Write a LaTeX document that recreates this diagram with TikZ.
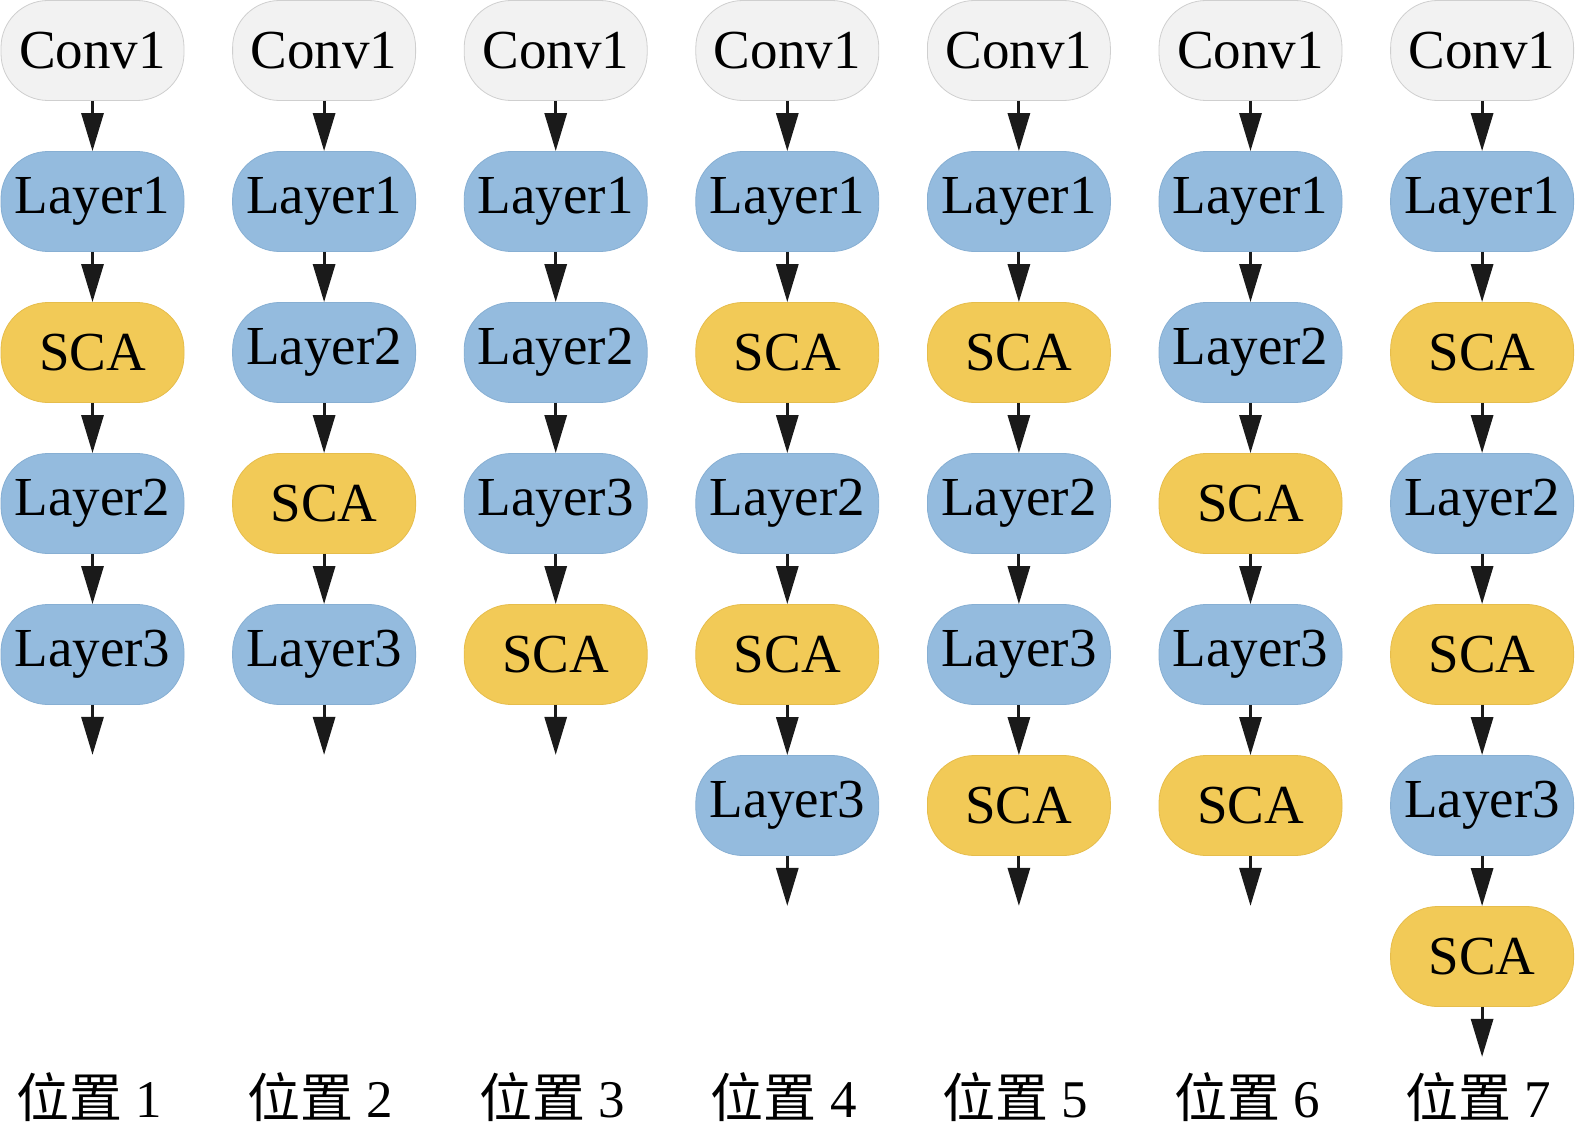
\documentclass[tikz,border=0pt]{standalone}
\usepackage{fontspec}
\setmainfont{Liberation Serif}
\newfontfamily\cjk{Noto Sans CJK SC}
\usetikzlibrary{arrows.meta}
\definecolor{convfill}{HTML}{F2F2F2}
\definecolor{convline}{HTML}{CFCFCF}
\definecolor{layfill}{HTML}{94BBDE}
\definecolor{layline}{HTML}{87AFD3}
\definecolor{scafill}{HTML}{F2CA57}
\definecolor{scaline}{HTML}{E6BD4C}
\definecolor{arrcol}{HTML}{1A1A1A}
\tikzset{
  blk/.style={rectangle, rounded corners=47pt, minimum width=183pt, minimum height=100pt,
    inner sep=0pt, line width=0.8pt, font=\fontsize{55}{60}\selectfont, text=black},
  conv/.style={blk, fill=convfill, draw=convline},
  lay/.style={blk, fill=layfill, draw=layline},
  sca/.style={blk, fill=scafill, draw=scaline},
  arr/.style={draw=arrcol, line width=3pt, -{Triangle[length=38pt,width=22pt]}},
  lbl/.style={font=\fontsize{53}{56}\selectfont, inner sep=0pt}
}
\begin{document}
\begin{tikzpicture}[x=1pt,y=1pt]
\useasboundingbox (0,0) rectangle (1575,-1137);
\foreach \seq [count=\i] in {
  {conv/Conv1,lay/Layer1,sca/SCA,lay/Layer2,lay/Layer3},
  {conv/Conv1,lay/Layer1,lay/Layer2,sca/SCA,lay/Layer3},
  {conv/Conv1,lay/Layer1,lay/Layer2,lay/Layer3,sca/SCA},
  {conv/Conv1,lay/Layer1,sca/SCA,lay/Layer2,sca/SCA,lay/Layer3},
  {conv/Conv1,lay/Layer1,sca/SCA,lay/Layer2,lay/Layer3,sca/SCA},
  {conv/Conv1,lay/Layer1,lay/Layer2,sca/SCA,lay/Layer3,sca/SCA},
  {conv/Conv1,lay/Layer1,sca/SCA,lay/Layer2,sca/SCA,lay/Layer3,sca/SCA}} {
  \foreach \s/\t [count=\j] in \seq {
    \node[\s] (n\i-\j) at ({92.5+231.6*(\i-1)}, {-50.5-151*(\j-1)}) {\raisebox{-2pt}{\t}};
    \ifnum\j>1
      \pgfmathtruncatemacro\p{\j-1}
      \draw[arr] (n\i-\p) -- (n\i-\j);
    \fi
  }
}
\foreach \i/\n in {1/5,2/5,3/5,4/6,5/6,6/6,7/7} {
  \coordinate (e\i) at ([yshift=-50pt]n\i-\n.south);
  \draw[arr] (n\i-\n) -- (e\i);
}
\foreach \i in {1,...,7} {
  \node[lbl] (lab\i) at ({89+231.6*(\i-1)}, -1097) {{\cjk 位置} \i};
}
\end{tikzpicture}
\end{document}
